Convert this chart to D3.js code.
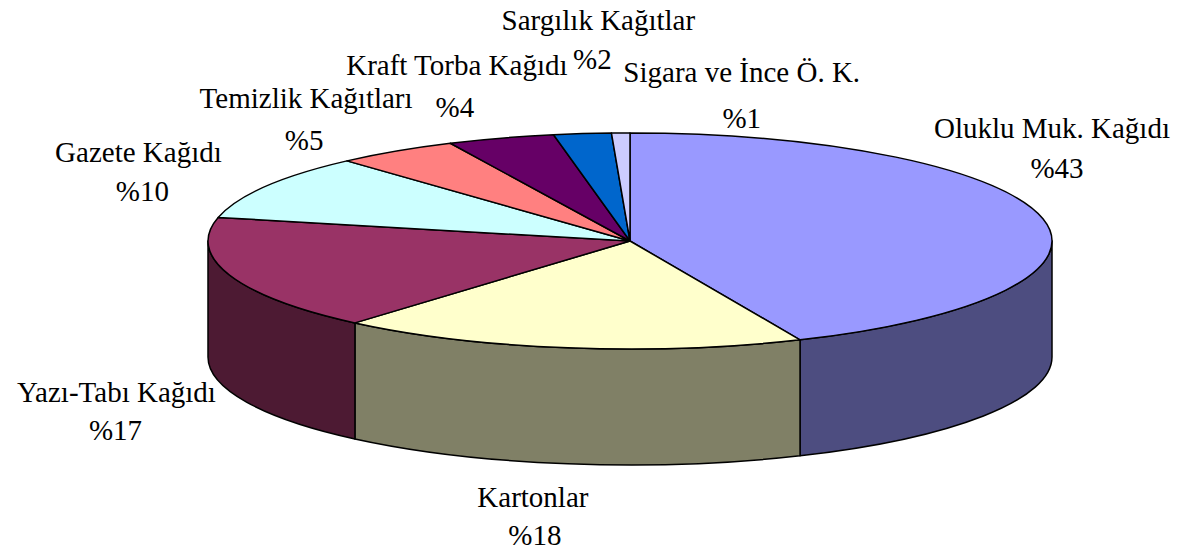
<!DOCTYPE html>
<html>
<head>
<meta charset="utf-8">
<script src="https://d3js.org/d3.v7.min.js"></script>
</head>
<body style="margin:0; background:#fff">
<svg id="svg" width="1191" height="559"></svg>
<script>
// slice data (clockwise from 12 o'clock)
var names = ["Oluklu Muk. Kağıdı", "Kartonlar", "Yazı-Tabı Kağıdı", "Gazete Kağıdı",
             "Temizlik Kağıtları", "Kraft Torba Kağıdı", "Sargılık Kağıtlar", "Sigara ve İnce Ö. K."];
var shares = [43.4, 17.9, 17.2, 9.8, 4.7, 4.1, 2.2, 0.7];
var pctLabels = ["%43", "%18", "%17", "%10", "%5", "%4", "%2", "%1"];
var colors = ["#9999FF", "#FFFFCC", "#993366", "#CCFFFF", "#FF8080", "#660066", "#0066CC", "#CCCCFF"];

// label offsets from the slice's mid point on the rim: [name dx, name dy, pct dx, pct dy]
var labelOffsets = [
  [9, -81, 14, -41],
  [-35, 159, -33, 197],
  [-113, 127, -114, 165],
  [-127, -25, -123, 14],
  [-90, -43, -92, -1],
  [-44, -63, -46, -21],
  [16, -104, 10, -65],
  [121, -51, 121, -5]
];

var svg = d3.select("svg");
var cx = 630, cy = 241, rx = 422, ry = 108, depth = 116;

var data = names.map(function(n, i) { return {name: n, value: shares[i], pct: pctLabels[i], color: colors[i]}; });
var pie = d3.pie().sort(null).value(function(d) { return d.value; }).startAngle(0).endAngle(2 * Math.PI);
var arcs = pie(data);

function pt(a, dy) {
  return [cx + rx * Math.sin(a), cy - ry * Math.cos(a) + (dy || 0)];
}

function sideColor(c) {
  var r = d3.rgb(c);
  return d3.rgb(r.r * 0.5, r.g * 0.5, r.b * 0.5).toString();
}

// front walls: only the part of each arc between 90 and 270 degrees shows
var walls = arcs.map(function(d) {
  var a0 = Math.max(d.startAngle, Math.PI / 2), a1 = Math.min(d.endAngle, 3 * Math.PI / 2);
  return {d: d, a0: a0, a1: a1};
}).filter(function(w) { return w.a1 > w.a0; });

svg.append("g").selectAll("path")
  .data(walls)
  .enter().append("path")
  .attr("d", function(w) {
    var p0 = pt(w.a0), p1 = pt(w.a1), q1 = pt(w.a1, depth), q0 = pt(w.a0, depth);
    return "M" + p0 + "A" + rx + "," + ry + " 0 0 1 " + p1 +
           "L" + q1 + "A" + rx + "," + ry + " 0 0 0 " + q0 + "Z";
  })
  .attr("fill", function(w) { return sideColor(w.d.data.color); })
  .attr("stroke", "#000")
  .attr("stroke-width", 1.5)
  .attr("stroke-linejoin", "round");

// top faces
svg.append("g").selectAll("path")
  .data(arcs)
  .enter().append("path")
  .attr("d", function(d) {
    var p0 = pt(d.startAngle), p1 = pt(d.endAngle);
    var large = (d.endAngle - d.startAngle) > Math.PI ? 1 : 0;
    return "M" + cx + "," + cy + "L" + p0 + "A" + rx + "," + ry + " 0 " + large + " 1 " + p1 + "Z";
  })
  .attr("fill", function(d) { return d.data.color; })
  .attr("stroke", "#000")
  .attr("stroke-width", 1.5)
  .attr("stroke-linejoin", "round");

// labels
function mid(d) { return pt((d.startAngle + d.endAngle) / 2); }

var lab = svg.append("g")
  .style("font-family", "'Liberation Serif', 'Times New Roman', serif")
  .style("font-size", "29px")
  .attr("fill", "#000")
  .selectAll("g")
  .data(arcs)
  .enter().append("g");

lab.append("text")
  .attr("text-anchor", "middle")
  .attr("x", function(d) { return mid(d)[0] + labelOffsets[d.index][0]; })
  .attr("y", function(d) { return mid(d)[1] + labelOffsets[d.index][1]; })
  .text(function(d) { return d.data.name; });

lab.append("text")
  .attr("text-anchor", "middle")
  .attr("x", function(d) { return mid(d)[0] + labelOffsets[d.index][2]; })
  .attr("y", function(d) { return mid(d)[1] + labelOffsets[d.index][3]; })
  .text(function(d) { return d.data.pct; });
</script>
</body>
</html>
